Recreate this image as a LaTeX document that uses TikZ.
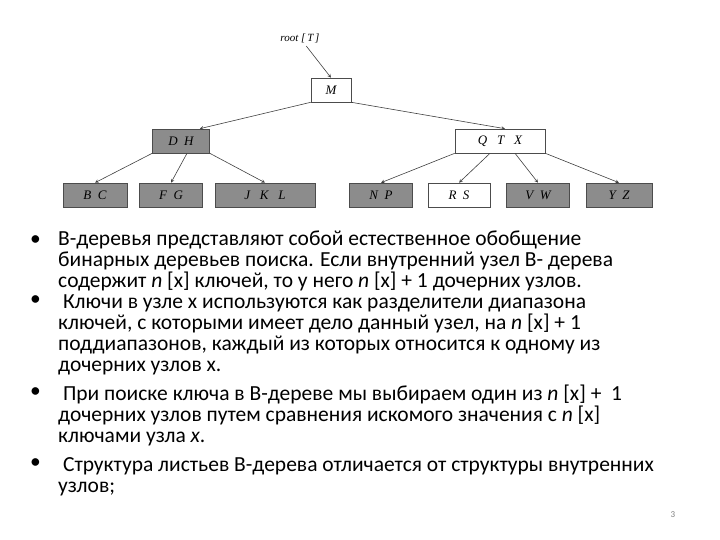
\documentclass[tikz,border=0pt]{standalone}
\usepackage{fontspec}
\setmainfont{Carlito}
\newfontfamily\treefont{Liberation Serif}
\begin{document}
\begin{tikzpicture}[x=1pt,y=-1pt,
  bx/.style={draw=black!70,line width=0.6pt,minimum height=24pt,inner sep=0pt,font=\treefont\itshape\fontsize{13}{14}\selectfont},
  lf/.style={bx,fill=black!45},
  wb/.style={bx,fill=white},
  ar/.style={-stealth,draw=black!75,line width=0.6pt},
  tl/.style={anchor=base west,font=\fontsize{21.5}{22}\selectfont,inner sep=0pt}]
\useasboundingbox (0,0) rectangle (720,540);
\node[font=\treefont\itshape\fontsize{11}{12}\selectfont] (root) at (300,38) {root [\,T\,]};
\node[wb,minimum width=40pt] (M) at (331,90) {M};
\node[lf,minimum width=57pt] (DH) at (181,141) {D\ \ H};
\node[wb,minimum width=90pt] (QTX) at (500,141) {Q\ \ \ T\ \ \ X};
\node[lf,minimum width=64pt] (BC) at (95,195) {B\ \ C};
\node[lf,minimum width=63pt] (FG) at (171,195) {F\ \ G};
\node[lf,minimum width=100pt] (JKL) at (265,195) {J\ \ \ K\ \ \ L};
\node[lf,minimum width=63pt] (NP) at (381,195) {N\ \ P};
\node[wb,minimum width=62pt] (RS) at (459,195) {R\ \ S};
\node[lf,minimum width=63pt] (VW) at (538,195) {V\ \ W};
\node[lf,minimum width=66pt] (YZ) at (619,195) {Y\ \ Z};
\draw[ar] (root) -- (M.north);
\draw[ar] (M.south west) -- ([xshift=-10pt]DH.north east);
\draw[ar] (M.south east) -- ([xshift=5pt]QTX.north);
\draw[ar] (DH.south west) -- (BC.north);
\draw[ar] ([xshift=6pt]DH.south) -- (FG.north);
\draw[ar] (DH.south east) -- (JKL.north);
\draw[ar] (QTX.south west) -- (NP.north);
\draw[ar] ([xshift=-10pt]QTX.south) -- (RS.north);
\draw[ar] ([xshift=15pt]QTX.south) -- (VW.north);
\draw[ar] (QTX.south east) -- (YZ.north);
\foreach \i/\y in {1/245,2/305,3/397,4/468}
  \node[tl] (b\i) at (30,\y) {•};
\node[tl] (t1) at (58,245) {В-деревья представляют собой естественное обобщение};
\node[tl] (t2) at (58,266) {бинарных деревьев поиска. Если внутренний узел В- дерева};
\node[tl] (t3) at (58,287) {содержит \textit{n} [x] ключей, то у него \textit{n} [x] + 1 дочерних узлов.};
\node[tl] (t4) at (58,308) {\ Ключи в узле x используются как разделители диапазона};
\node[tl] (t5) at (58,329) {ключей, с которыми имеет дело данный узел, на \textit{n} [x] + 1};
\node[tl] (t6) at (58,350) {поддиапазонов, каждый из которых относится к одному из};
\node[tl] (t7) at (58,371) {дочерних узлов x.};
\node[tl] (t8) at (58,400) {\ При поиске ключа в В-дереве мы выбираем один из \textit{n} [x] +\ \ 1};
\node[tl] (t9) at (58,421) {дочерних узлов путем сравнения искомого значения с \textit{n} [x]};
\node[tl] (t10) at (58,442) {ключами узла \textit{x}.};
\node[tl] (t11) at (58,471) {\ Структура листьев В-дерева отличается от структуры внутренних};
\node[tl] (t12) at (58,492) {узлов;};
\node[font=\small,text=black!50] (pg) at (673,515) {3};
\end{tikzpicture}
\end{document}
